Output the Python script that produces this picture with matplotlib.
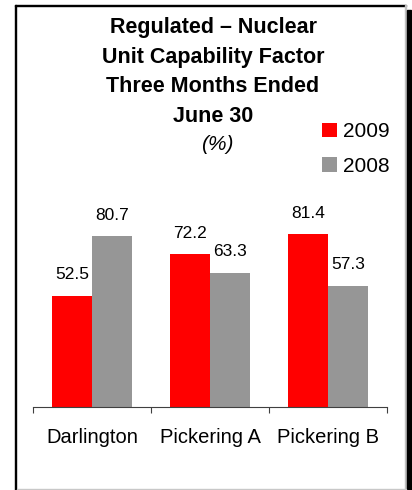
import numpy as np
import matplotlib
matplotlib.use("Agg")
import matplotlib.pyplot as plt
from matplotlib.patches import Rectangle

plt.rcParams["font.family"] = ["Liberation Sans", "DejaVu Sans"]

categories = ["Darlington", "Pickering A", "Pickering B"]
years = ["2009", "2008"]
values_2009 = [52.5, 72.2, 81.4]
values_2008 = [80.7, 63.3, 57.3]
colors = ["#FF0000", "#969696"]

title_lines = ["Regulated \u2013 Nuclear", "Unit Capability Factor",
               "Three Months Ended", "June 30"]


def main() -> None:
    W, H = 412, 490
    fig = plt.figure(figsize=(W / 100, H / 100), dpi=100)

    # frame with shadow on the right
    fig.patches.append(Rectangle((15 / W, 0), 1.5 / W, (H - 5) / H,
                                 transform=fig.transFigure, color="black", zorder=5))
    fig.patches.append(Rectangle((15 / W, (H - 6.5) / H), (391 / W), 1.5 / H,
                                 transform=fig.transFigure, color="black", zorder=5))
    fig.patches.append(Rectangle((405 / W, 0), 1 / W, (H - 5) / H,
                                 transform=fig.transFigure, color="#c0c0c0", zorder=5))
    fig.patches.append(Rectangle((406.7 / W, 0), 4.5 / W, (H - 10) / H,
                                 transform=fig.transFigure, color="black", zorder=5))
    fig.patches.append(Rectangle((16.5 / W, 0), 389 / W, 1.2 / H,
                                 transform=fig.transFigure, color="#c8c8c8", zorder=5))

    ax = fig.add_axes([33 / W, (H - 407) / H, 354 / W, 212 / H])
    x = np.arange(len(categories))
    w = 0.34
    b1 = ax.bar(x - w / 2, values_2009, w, color=colors[0], label=years[0])
    b2 = ax.bar(x + w / 2, values_2008, w, color=colors[1], label=years[1])

    for bars, vals in ((b1, values_2009), (b2, values_2008)):
        for bar, v in zip(bars, vals):
            ax.annotate(f"{v:.1f}", (bar.get_x() + bar.get_width() / 2, v),
                        xytext=(0, 15), textcoords="offset points",
                        ha="center", va="center", fontsize=12.5)

    ax.set_xlim(-0.5, 2.5)
    ax.set_ylim(0, 100)
    for s in ("left", "right", "top"):
        ax.spines[s].set_visible(False)
    ax.spines["bottom"].set_color("#404040")
    ax.spines["bottom"].set_linewidth(0.8)
    ax.set_yticks([])
    ax.set_xticks(x, categories, fontsize=14.5)
    ax.tick_params(axis="x", which="major", length=0, pad=15)
    ax.set_xticks([-0.5, 0.5, 1.5, 2.5], minor=True)
    ax.tick_params(axis="x", which="minor", length=4, width=0.8, color="#404040")

    ys = [27, 57, 86, 116]
    for line, yy in zip(title_lines, ys):
        fig.text(213 / W, 1 - yy / H, line, ha="center", va="center",
                 fontsize=15.5, fontweight="bold")
    fig.text(217 / W, 1 - 145 / H, "(%)", ha="center", va="center",
             fontsize=15, style="italic")

    fig.legend(handles=[b1, b2], labels=years, loc="upper left",
               bbox_to_anchor=(317.5 / W, 1 - 118 / H), frameon=False,
               fontsize=15, handlelength=0.72, handleheight=0.68,
               handletextpad=0.3, labelspacing=0.75, borderpad=0.2,
               borderaxespad=0)

    fig.savefig("out.png", dpi=100)
    plt.close(fig)


if __name__ == "__main__":
    main()
